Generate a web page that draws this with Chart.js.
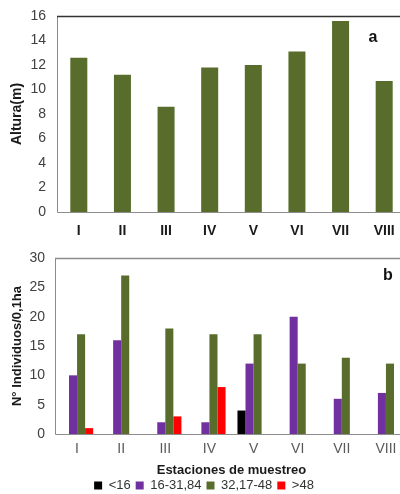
<!DOCTYPE html>
<html>
<head>
<meta charset="utf-8">
<script src="https://cdn.jsdelivr.net/npm/chart.js@4"></script>
<style>
	html, body { margin: 0; padding: 0; background: #fff; overflow: hidden; width: 400px; height: 494px; }
	#topHolder { position: absolute; left: 0; top: 0; }
	#bottomHolder { position: absolute; left: 0; top: 245px; }
</style>
</head>
<body>
<div id="topHolder"><canvas id="graphAltura" width="420" height="245"></canvas></div>
<div id="bottomHolder"><canvas id="graphIndividuos" width="420" height="249"></canvas></div>
<script>
var estaciones = ["I", "II", "III", "IV", "V", "VI", "VII", "VIII"];

// altura media por estacion (m)
var alturas = [12.6, 11.2, 8.6, 11.8, 12.0, 13.1, 15.6, 10.7];

// individuos por clase diametrica
var clases = ["<16", "16-31,84", "32,17-48", ">48"];
var menor16 = [0, 0, 0, 0, 4, 0, 0, 0];
var de16a31 = [10, 16, 2, 2, 12, 20, 6, 7];
var de32a48 = [17, 27, 18, 17, 17, 12, 13, 12];
var mayor48 = [1, 0, 3, 8, 0, 0, 0, 0];

var alturaTicks = [0, 2, 4, 6, 8, 10, 12, 14, 16];
var individuosTicks = [0, 5, 10, 15, 20, 25, 30];

var verde = '#586d2b';
var morado = '#7030a0';
var rojo = '#ff0000';
var negro = '#000000';
var fuente = "'Liberation Sans', Arial, sans-serif";

Chart.defaults.font.family = fuente;
Chart.defaults.animation = false;

// borde del area de la grafica + letra del panel
function panelPlugin(letra, colorTop, letraDx, letraDy) {
	return {
		id: 'panel' + letra,
		afterDraw: function(chart) {
			var ctx = chart.ctx;
			var a = chart.chartArea;
			ctx.save();
			ctx.lineWidth = 1;
			ctx.strokeStyle = '#8c8c8c';
			ctx.beginPath();
			ctx.moveTo(a.left + 0.5, a.top);
			ctx.lineTo(a.left + 0.5, a.bottom + 0.5);
			ctx.lineTo(a.right, a.bottom + 0.5);
			ctx.stroke();
			ctx.strokeStyle = colorTop;
			ctx.lineWidth = 1.5;
			ctx.beginPath();
			ctx.moveTo(a.left, a.top + 0.5);
			ctx.lineTo(a.right, a.top + 0.5);
			ctx.stroke();
			ctx.fillStyle = '#111';
			ctx.font = 'bold 16px ' + fuente;
			ctx.textAlign = 'center';
			ctx.textBaseline = 'middle';
			ctx.fillText(letra, a.right + letraDx, a.top + letraDy);
			ctx.restore();
		}
	};
}

function fijarPadding(scale) {
	scale.paddingTop = 6;
	scale.paddingBottom = 6;
}

var ctxA = document.getElementById("graphAltura").getContext('2d');
var alturaChart = new Chart(ctxA, {
	type: 'bar',
	data: {
		labels: estaciones,
		datasets: [{
			data: alturas,
			backgroundColor: verde,
			borderWidth: 0,
			barPercentage: 0.39,
			categoryPercentage: 1
		}]
	},
	plugins: [panelPlugin('a', '#333333', -33, 22)],
	options: {
		responsive: false,
		layout: { padding: { top: 16, right: 14, left: 0, bottom: 0 } },
		plugins: { legend: { display: false }, tooltip: { enabled: false } },
		scales: {
			x: {
				grid: { display: false, drawTicks: false },
				border: { display: false },
				ticks: { color: '#1a1a1a', font: { size: 14, weight: 'bold' }, padding: 11 },
				afterFit: function(scale) { scale.height = 33; }
			},
			y: {
				min: 0,
				max: 16,
				grid: { display: false, drawTicks: false },
				border: { display: false },
				afterBuildTicks: function(scale) {
					scale.ticks = alturaTicks.map(function(v) { return { value: v }; });
				},
				ticks: { color: '#404040', font: { size: 14 }, padding: 11 },
				title: {
					display: true,
					text: 'Altura(m)',
					color: '#1a1a1a',
					font: { size: 14, weight: 'bold' },
					padding: { top: 9, bottom: 0 }
				},
				afterFit: function(scale) { scale.width = 57; fijarPadding(scale); }
			}
		}
	}
});

var ctxB = document.getElementById("graphIndividuos").getContext('2d');
var individuosChart = new Chart(ctxB, {
	type: 'bar',
	data: {
		labels: estaciones,
		datasets: [
			{ label: clases[0], data: menor16, backgroundColor: negro },
			{ label: clases[1], data: de16a31, backgroundColor: morado },
			{ label: clases[2], data: de32a48, backgroundColor: verde },
			{ label: clases[3], data: mayor48, backgroundColor: rojo }
		]
	},
	plugins: [panelPlugin('b', '#8c8c8c', -20, 18)],
	options: {
		responsive: false,
		datasets: { bar: { barPercentage: 1, categoryPercentage: 0.73, borderWidth: 0 } },
		layout: { padding: { top: 13, right: 12, left: 0, bottom: 0 } },
		plugins: {
			tooltip: { enabled: false },
			legend: {
				position: 'bottom',
				maxHeight: 20,
				labels: {
					boxWidth: 8,
					boxHeight: 8,
					padding: 5,
					color: '#333333',
					font: { size: 13 }
				}
			}
		},
		scales: {
			x: {
				grid: { display: false, drawTicks: false },
				border: { display: false },
				ticks: { color: '#595959', font: { size: 14 }, padding: 7 },
				title: {
					display: true,
					text: 'Estaciones de muestreo',
					color: '#1a1a1a',
					font: { size: 13, weight: 'bold' },
					padding: { top: 0, bottom: -4 }
				},
				afterFit: function(scale) { scale.height = 40; }
			},
			y: {
				min: 0,
				max: 30,
				grid: { display: false, drawTicks: false },
				border: { display: false },
				afterBuildTicks: function(scale) {
					scale.ticks = individuosTicks.map(function(v) { return { value: v }; });
				},
				ticks: { color: '#404040', font: { size: 14 }, padding: 10 },
				title: {
					display: true,
					text: 'N° Individuos/0,1ha',
					color: '#1a1a1a',
					font: { size: 13, weight: 'bold' },
					padding: { top: 10, bottom: 0 }
				},
				afterFit: function(scale) { scale.width = 55; fijarPadding(scale); }
			}
		}
	}
});
</script>
</body>
</html>
